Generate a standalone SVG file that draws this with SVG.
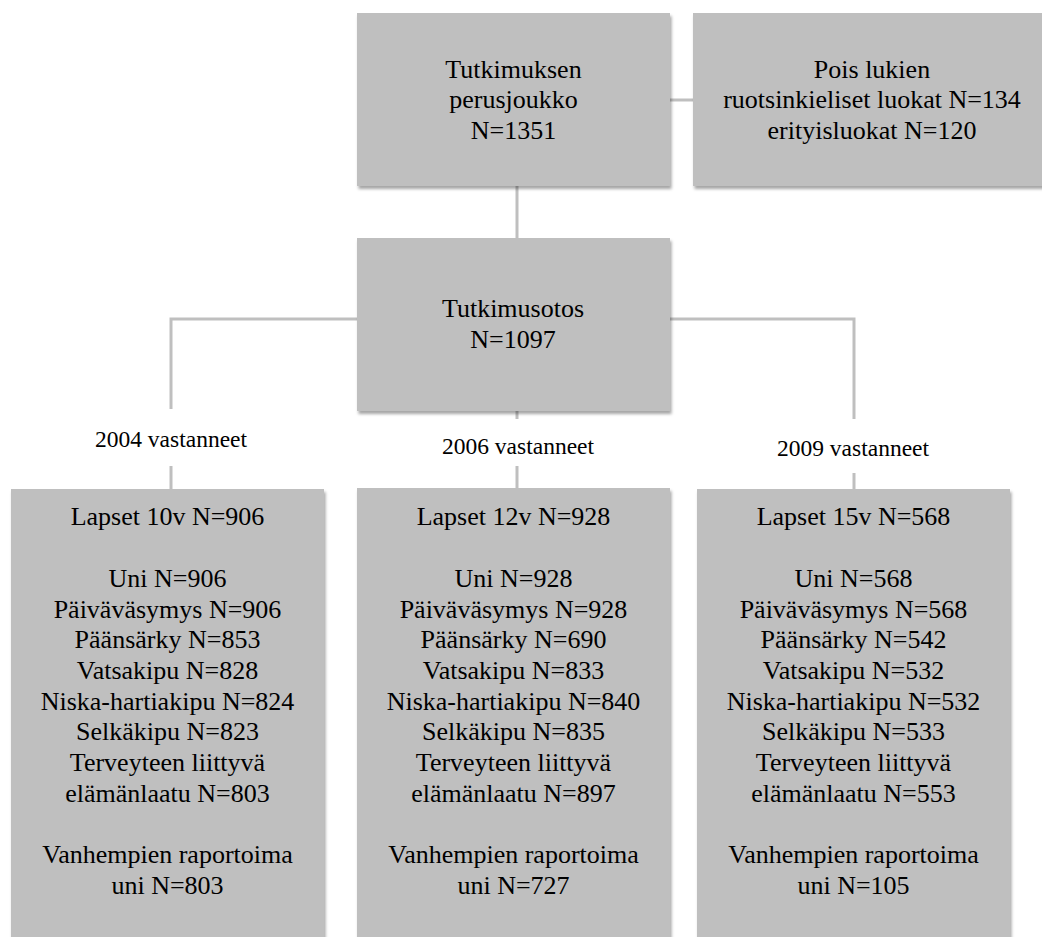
<svg xmlns="http://www.w3.org/2000/svg" width="1042" height="937" viewBox="0 0 1042 937">
<defs>
<filter id="sh" x="-5%" y="-5%" width="115%" height="115%">
<feDropShadow dx="1.5" dy="3" stdDeviation="1.8" flood-color="#000" flood-opacity="0.35"/>
</filter>
<style>
.box{fill:#bfbfbf;filter:url(#sh);}
.t{font-family:'Liberation Serif',Tinos,'Times New Roman',Times,'Nimbus Roman','DejaVu Serif',serif;font-size:26px;fill:#000;text-anchor:middle;}
.lbl{font-family:'Liberation Serif',Tinos,'Times New Roman',Times,'Nimbus Roman','DejaVu Serif',serif;font-size:23.5px;fill:#000;text-anchor:middle;}
.c{stroke:#bfbfbf;stroke-width:3;fill:none;}
</style>
</defs>
<rect width="1042" height="937" fill="#fff"/>
<g id="connectors">
<line class="c" x1="670" y1="100" x2="693" y2="100"/>
<line class="c" x1="517" y1="186" x2="517" y2="238"/>
<polyline class="c" points="357,319 171,319 171,409"/>
<polyline class="c" points="670,319 854,319 854,419"/>
<line class="c" x1="517" y1="411" x2="517" y2="419"/>
<line class="c" x1="171" y1="466" x2="171" y2="489"/>
<line class="c" x1="517" y1="466" x2="517" y2="489"/>
<line class="c" x1="854" y1="473" x2="854" y2="489"/>
</g>
<g id="labels" font-family="Liberation Serif, serif">
<text class="lbl" x="171" y="447">2004 vastanneet</text>
<text class="lbl" x="518" y="454">2006 vastanneet</text>
<text class="lbl" x="853" y="456">2009 vastanneet</text>
</g>
<g id="perusjoukko" font-family="Liberation Serif, serif">
<rect class="box" x="357" y="13" width="313" height="173"/>
<text class="t" x="513.5" y="78">Tutkimuksen</text>
<text class="t" x="513.5" y="108">perusjoukko</text>
<text class="t" x="513.5" y="139">N=1351</text>
</g>
<g id="poislukien" font-family="Liberation Serif, serif">
<rect class="box" x="693" y="13" width="358" height="173"/>
<text class="t" x="872" y="78">Pois lukien</text>
<text class="t" x="872" y="108">ruotsinkieliset luokat N=134</text>
<text class="t" x="872" y="139">erityisluokat N=120</text>
</g>
<g id="tutkimusotos" font-family="Liberation Serif, serif">
<rect class="box" x="357" y="238" width="313" height="173"/>
<text class="t" x="513" y="317">Tutkimusotos</text>
<text class="t" x="513" y="348">N=1097</text>
</g>
<g id="lapset10" font-family="Liberation Serif, serif">
<rect class="box" x="11" y="489" width="313" height="470"/>
<text class="t" x="167.5" y="525">Lapset 10v N=906</text>
<text class="t" x="167.5" y="587">Uni N=906</text>
<text class="t" x="167.5" y="617.5">Päiväväsymys N=906</text>
<text class="t" x="167.5" y="648">Päänsärky N=853</text>
<text class="t" x="167.5" y="679">Vatsakipu N=828</text>
<text class="t" x="167.5" y="709.5">Niska-hartiakipu N=824</text>
<text class="t" x="167.5" y="740">Selkäkipu N=823</text>
<text class="t" x="167.5" y="771">Terveyteen liittyvä</text>
<text class="t" x="167.5" y="801.5">elämänlaatu N=803</text>
<text class="t" x="167.5" y="863">Vanhempien raportoima</text>
<text class="t" x="167.5" y="893.5">uni N=803</text>
</g>
<g id="lapset12" font-family="Liberation Serif, serif">
<rect class="box" x="357" y="488" width="313" height="470"/>
<text class="t" x="513.5" y="525">Lapset 12v N=928</text>
<text class="t" x="513.5" y="587">Uni N=928</text>
<text class="t" x="513.5" y="617.5">Päiväväsymys N=928</text>
<text class="t" x="513.5" y="648">Päänsärky N=690</text>
<text class="t" x="513.5" y="679">Vatsakipu N=833</text>
<text class="t" x="513.5" y="709.5">Niska-hartiakipu N=840</text>
<text class="t" x="513.5" y="740">Selkäkipu N=835</text>
<text class="t" x="513.5" y="771">Terveyteen liittyvä</text>
<text class="t" x="513.5" y="801.5">elämänlaatu N=897</text>
<text class="t" x="513.5" y="863">Vanhempien raportoima</text>
<text class="t" x="513.5" y="893.5">uni N=727</text>
</g>
<g id="lapset15" font-family="Liberation Serif, serif">
<rect class="box" x="697" y="489" width="313" height="470"/>
<text class="t" x="853.5" y="525">Lapset 15v N=568</text>
<text class="t" x="853.5" y="587">Uni N=568</text>
<text class="t" x="853.5" y="617.5">Päiväväsymys N=568</text>
<text class="t" x="853.5" y="648">Päänsärky N=542</text>
<text class="t" x="853.5" y="679">Vatsakipu N=532</text>
<text class="t" x="853.5" y="709.5">Niska-hartiakipu N=532</text>
<text class="t" x="853.5" y="740">Selkäkipu N=533</text>
<text class="t" x="853.5" y="771">Terveyteen liittyvä</text>
<text class="t" x="853.5" y="801.5">elämänlaatu N=553</text>
<text class="t" x="853.5" y="863">Vanhempien raportoima</text>
<text class="t" x="853.5" y="893.5">uni N=105</text>
</g>
</svg>
